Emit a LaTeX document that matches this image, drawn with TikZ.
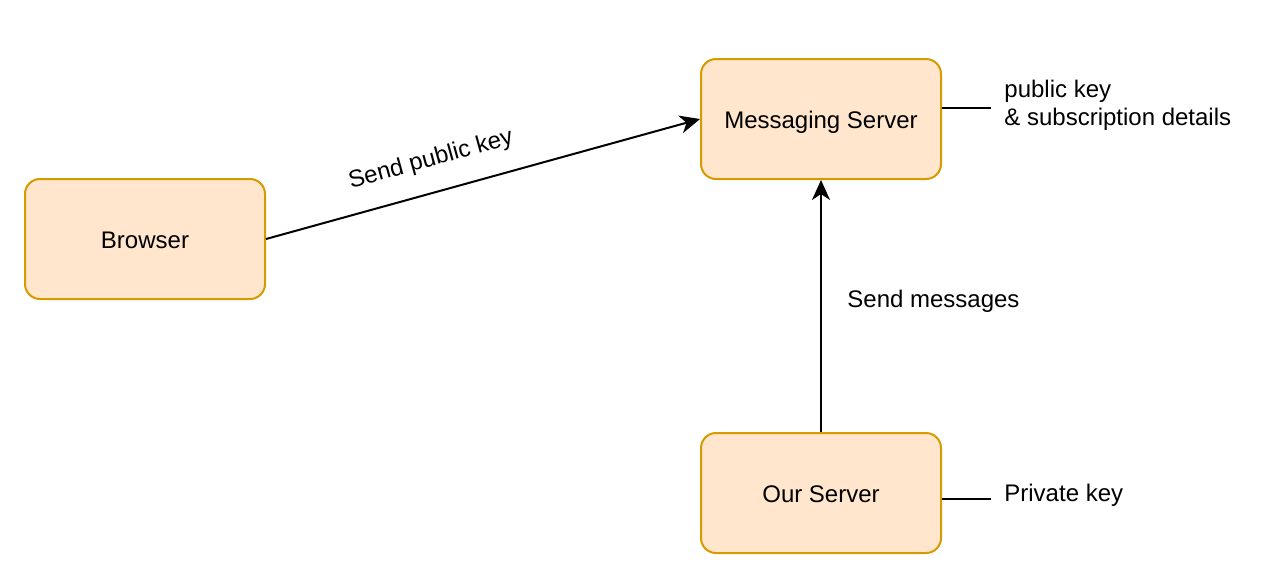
\documentclass[tikz,border=0pt]{standalone}
\usepackage{fontspec}
\setmainfont{Liberation Sans}
\usetikzlibrary{arrows.meta}
\definecolor{boxfill}{HTML}{FFE6CC}
\definecolor{boxdraw}{HTML}{D79B00}
\begin{document}
\begin{tikzpicture}[x=0.5pt,y=-0.5pt,
  every node/.style={font=\fontsize{12pt}{14pt}\selectfont, inner sep=0pt},
  proc/.style={draw=boxdraw, fill=boxfill, line width=1pt, rounded corners=7.5pt,
    minimum width=120pt, minimum height=60pt, text height=10pt, text depth=1pt},
  conn/.style={line width=1pt, -{Stealth[length=10pt,width=9pt,inset=3pt]}},
  plain/.style={line width=1pt}]
\useasboundingbox (0,0) rectangle (1262,586);
\node[proc] (browser) at (145,239) {Browser};
\node[proc] (msg) at (821,119) {Messaging Server};
\node[proc] (our) at (821,493) {Our Server};
\draw[conn] (browser.east) -- node[pos=0.4, sloped, above=10pt] {Send public key} (msg.west);
\draw[conn] (our.north) -- (msg.south);
\node[anchor=west] (lblmsgs) at (847,301) {Send messages};
\coordinate (mend) at (991,108);
\coordinate (oend) at (991,499);
\draw[plain] (msg.east |- mend) -- (mend);
\draw[plain] (our.east |- oend) -- (oend);
\node[anchor=west, align=left] (pk) at (1004,105) {public key\\\& subscription details};
\node[anchor=west] (prk) at (1004,495) {Private key};
\end{tikzpicture}
\end{document}
